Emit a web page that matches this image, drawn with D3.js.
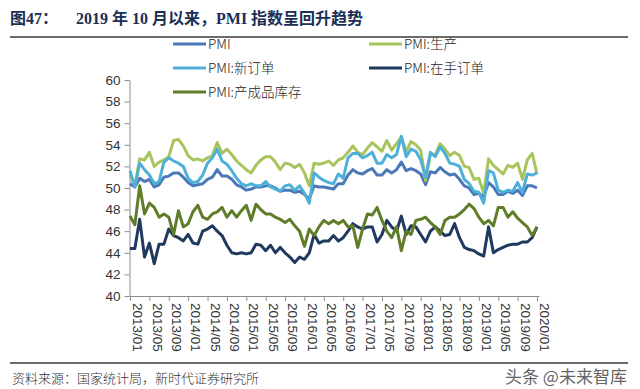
<!DOCTYPE html>
<html><head><meta charset="utf-8">
<script src="https://cdn.jsdelivr.net/npm/d3@7"></script>
<style>
html,body{margin:0;padding:0;background:#fff;}
svg{display:block;}
</style></head>
<body>
<svg id="c" width="640" height="389"></svg>
<script>
// ---- data ----
const categories = d3.timeMonth.range(new Date(2013,0,1), new Date(2020,1,1)).map(d3.timeFormat("%Y/%m"));
const xTickLabels = ["2013/01","2013/05","2013/09","2014/01","2014/05","2014/09","2015/01","2015/05","2015/09","2016/01","2016/05","2016/09","2017/01","2017/05","2017/09","2018/01","2018/05","2018/09","2019/01","2019/05","2019/09","2020/01"];
const yTickLabels = [40,42,44,46,48,50,52,54,56,58,60];
const seriesNames = ["PMI","PMI:生产","PMI:新订单","PMI:在手订单","PMI:产成品库存"];

const pmi = [50.4,50.1,50.9,50.6,50.8,50.1,50.3,51.0,51.1,51.4,51.4,51.0,
  50.5,50.2,50.3,50.4,50.8,51.0,51.7,51.1,51.1,50.8,50.3,50.1,
  49.8,49.9,50.1,50.1,50.2,50.2,50.0,49.7,49.8,49.8,49.6,49.7,
  49.4,49.0,50.2,50.1,50.1,50.0,49.9,50.4,50.4,51.2,51.7,51.4,
  51.3,51.6,51.8,51.2,51.2,51.7,51.4,51.7,52.4,51.6,51.8,51.6,
  51.3,50.3,51.5,51.4,51.9,51.5,51.2,51.3,50.8,50.2,50.0,49.4,
  49.5,49.2,50.5,50.1,49.4,49.4,49.7,49.5,49.8,49.3,50.2,50.2,
  50.0];
const production = [51.3,50.2,52.7,52.6,53.3,52.0,52.4,52.6,52.9,54.4,54.5,53.9,
  53.0,52.6,52.7,52.5,52.8,53.0,54.2,53.2,53.6,53.1,52.5,52.1,
  51.7,51.4,52.1,52.6,52.9,52.9,52.4,51.7,52.3,52.2,51.9,52.2,
  51.4,50.2,52.3,52.2,52.3,52.5,52.1,52.6,52.8,53.3,53.9,53.3,
  53.1,53.7,54.2,53.8,53.4,54.4,53.5,54.1,54.7,53.4,54.3,54.0,
  53.5,50.7,53.1,53.1,54.1,53.6,53.0,53.3,53.0,52.0,51.9,50.8,
  50.9,49.5,52.7,52.1,51.7,51.3,52.1,51.9,52.3,50.8,52.6,53.2,
  51.3];
const newOrders = [51.6,50.1,52.3,51.7,51.2,50.4,50.6,52.4,52.8,52.5,52.3,52.0,
  50.9,50.5,50.6,51.2,52.3,52.8,53.6,52.5,52.2,51.6,50.9,50.4,
  50.2,50.4,50.2,50.2,50.6,50.1,49.9,49.7,50.2,50.3,49.8,50.2,
  49.5,48.6,51.4,51.0,50.7,50.5,50.4,51.3,50.9,52.8,53.2,53.2,
  52.8,53.0,53.3,52.3,52.3,53.1,52.8,53.1,54.8,52.9,53.6,53.4,
  52.6,51.0,53.3,52.9,53.8,53.2,52.3,52.2,52.0,50.8,50.4,49.7,
  49.6,48.6,51.6,51.4,49.8,49.6,49.8,49.7,50.5,49.6,51.3,51.2,
  51.4];
const backlog = [44.4,44.4,47.1,43.6,44.9,43.0,44.8,44.8,46.2,45.6,
  45.4,45.1,45.7,44.9,44.8,46.0,46.2,46.5,46.0,45.6,
  44.7,44.0,43.9,44.0,43.9,44.0,44.8,44.7,44.2,44.7,
  44.0,44.5,44.0,43.6,43.1,43.6,43.4,44.0,45.7,44.9,
  45.1,45.1,45.6,45.1,45.4,46.0,46.7,46.4,46.2,46.4,
  46.4,45.0,45.7,47.0,46.4,46.0,47.4,45.7,46.5,46.4,
  45.7,45.0,46.0,46.4,46.0,45.6,45.7,46.7,45.4,44.5,
  44.3,44.2,43.9,43.7,46.4,44.0,44.3,44.5,44.7,44.8,
  44.8,45.0,45.0,45.4,46.4];
const inventory = [47.4,46.6,50.2,47.6,48.6,48.2,47.3,47.6,47.3,45.7,
  47.9,46.4,46.7,47.8,48.4,47.3,47.1,47.6,47.8,48.2,
  47.3,47.9,47.3,47.9,48.4,47.0,48.5,48.0,47.6,47.6,
  47.3,47.1,46.8,47.1,46.5,46.0,44.6,46.2,45.6,46.4,
  47.0,46.7,47.0,46.7,47.0,46.4,46.5,44.5,46.2,47.6,
  47.5,48.2,47.0,46.0,45.4,46.4,44.2,46.0,45.7,47.0,
  47.1,47.3,46.8,46.4,45.7,47.0,47.3,47.3,47.6,48.0,
  48.5,48.1,47.3,46.7,47.0,46.5,48.2,48.2,47.3,47.8,
  47.2,46.8,46.4,45.6,46.4];
const seriesColors = ["#4a78b8","#a8c45c","#4eb0d8","#20395e","#5f7c28"];

// ---- chart ----
const svg = d3.select("#c");
const cjk = "'Noto Sans CJK SC','Liberation Sans',sans-serif";
const titleFont = "'Liberation Serif','Noto Sans CJK SC',serif";
const series = [pmi, production, newOrders, backlog, inventory];

// title
svg.append("text").attr("x",10).attr("y",24).text("图47：")
  .style("font-family",titleFont).style("font-weight","bold").style("font-size","16px").attr("fill","#1b2f55");
svg.append("text").attr("x",76).attr("y",24).text("2019 年 10 月以来，PMI 指数呈回升趋势")
  .style("font-family",titleFont).style("font-weight","bold").style("font-size","16px").attr("fill","#1b2f55");
svg.append("line").attr("x1",10).attr("x2",628).attr("y1",37).attr("y2",37)
  .attr("stroke","#3a3a3a").attr("stroke-width",1.6);

// scales
const x = d3.scalePoint().domain(categories).range([130,537]);
const y = d3.scaleLinear().domain([40,60]).range([296,80]);

// axes
const gy = svg.append("g").attr("transform","translate(129.5,0)")
  .call(d3.axisLeft(y).tickValues(yTickLabels).tickSize(5).tickSizeOuter(0).tickPadding(4).tickFormat(d3.format("d")));
gy.select(".domain").attr("stroke","#8c8c8c");
gy.selectAll(".tick line").attr("stroke","#8c8c8c");
gy.selectAll("text").style("font-family","'Liberation Sans',Arial,sans-serif").style("font-size","13.5px").attr("fill","#333");

const gx = svg.append("g").attr("transform","translate(0,296)")
  .call(d3.axisBottom(x).tickValues(xTickLabels).tickSize(5).tickSizeOuter(0).tickFormat(d=>d));
gx.select(".domain").attr("d","M129.5,0.5H539.5").attr("stroke","#8c8c8c");
gx.selectAll(".tick line").attr("stroke","#8c8c8c");
gx.selectAll("text")
  .style("font-family","'Liberation Sans',Arial,sans-serif").style("font-size","13.5px").attr("fill","#333")
  .attr("text-anchor","start").attr("transform","rotate(90)")
  .attr("x",7).attr("y",0).attr("dy","-0.2em");

// lines
const line = d3.line().x((d,i)=>x(categories[i])).y(d=>y(d));
series.forEach((s,k)=>{
  svg.append("path").datum(s).attr("d",line).attr("fill","none")
    .attr("stroke",seriesColors[k]).attr("stroke-width",3).attr("stroke-linejoin","round");
});

// legend
const legendPos = [[173,44],[369,44],[173,68],[369,68],[173,92]];
seriesNames.forEach((n,k)=>{
  const [lx,ly] = legendPos[k];
  svg.append("line").attr("x1",lx).attr("x2",lx+33).attr("y1",ly).attr("y2",ly)
    .attr("stroke",seriesColors[k]).attr("stroke-width",3);
  svg.append("text").attr("x",lx+35).attr("y",ly).attr("dy","0.36em").text(n)
    .style("font-family",cjk).style("font-size","13.5px").style("font-weight","300").attr("fill","#222");
});

// footer
svg.append("line").attr("x1",10).attr("x2",628).attr("y1",363).attr("y2",363)
  .attr("stroke","#3a3a3a").attr("stroke-width",1.4);
svg.append("text").attr("x",12).attr("y",378).attr("dy","0.36em").text("资料来源：国家统计局，新时代证券研究所")
  .style("font-family",cjk).style("font-size","13px").style("font-weight","300").attr("fill","#333");
svg.append("text").attr("x",505).attr("y",377).attr("dy","0.36em").text("头条 @未来智库")
  .style("font-family",cjk).style("font-size","17px").attr("fill","#4a4a4a").attr("opacity",0.85);
</script>
</body></html>
